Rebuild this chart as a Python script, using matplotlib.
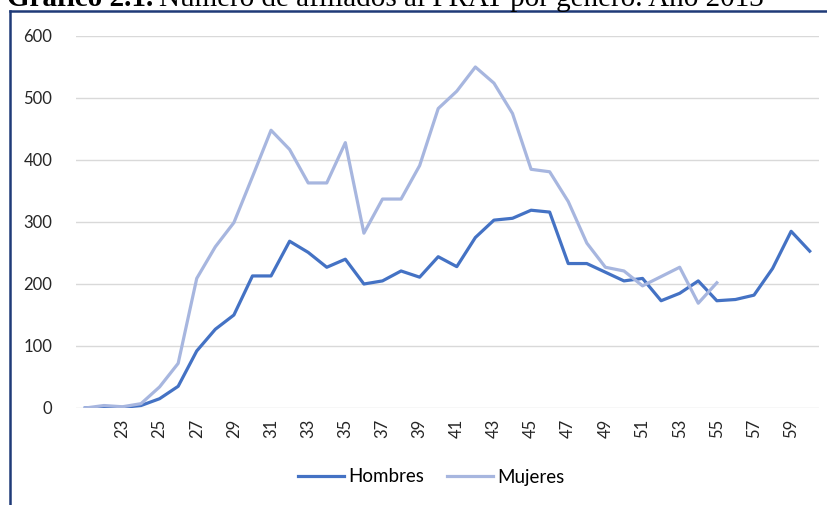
import matplotlib.pyplot as plt
from matplotlib.lines import Line2D

# Edades (categorias) y afiliados por genero
edades = list(range(21, 61))
hombres = [0, 1, 1, 4, 15, 35, 92, 127, 150, 213,
           213, 269, 251, 227, 240, 200, 205, 221, 211, 244,
           228, 275, 303, 306, 319, 316, 233, 233, 219, 205,
           209, 173, 185, 205, 173, 175, 182, 225, 285, 253]
mujeres = [0, 4, 2, 7, 34, 72, 209, 260, 299, 373,
           448, 417, 363, 363, 428, 282, 337, 337, 391, 483,
           511, 550, 524, 475, 385, 381, 333, 266, 227, 221,
           197, 212, 227, 169, 202]
etiquetas_x = list(range(23, 60, 2))
ticks_y = [0, 100, 200, 300, 400, 500, 600]

plt.rcParams["font.family"] = ["Lato", "DejaVu Sans"]

fig = plt.figure(figsize=(8.28, 5.05), dpi=100)
ax = fig.add_axes([76 / 828, 1 - 408 / 505, (819 - 76) / 828, (408 - 36) / 505])

ax.plot(edades, hombres, color="#4472C4", lw=2.3, label="Hombres", solid_joinstyle="round")
ax.plot(edades[:len(mujeres)], mujeres, color="#A7B6DF", lw=2.3, label="Mujeres",
        solid_joinstyle="round")

ax.set_xlim(20.5, 60.5)
ax.set_ylim(0, 600)
ax.set_xticks(etiquetas_x)
ax.set_xticklabels([str(e) for e in etiquetas_x], rotation=90, fontsize=12, color="#262626")
ax.set_yticks(ticks_y)
ax.set_yticklabels([str(t) for t in ticks_y], fontsize=12, color="#262626")
ax.tick_params(length=0)
ax.tick_params(axis="y", pad=17)
ax.tick_params(axis="x", pad=8)
ax.grid(axis="y", color="#D9D9D9", lw=1)
ax.set_axisbelow(True)
for s in ax.spines.values():
    s.set_visible(False)

fig.legend(loc="center", bbox_to_anchor=(431 / 828, 1 - 477 / 505), ncol=2,
           frameon=False, fontsize=13.5, handlelength=2.5, columnspacing=1.2,
           handletextpad=0.2)

# Marco del cuadro de texto y titulo (recortado arriba, como en el original)
fig.add_artist(Line2D([10 / 828, 1], [1 - 11 / 505, 1 - 11 / 505], color="#1F3A78", lw=1.8))
fig.add_artist(Line2D([10 / 828, 10 / 828], [0, 1 - 11 / 505], color="#1F3A78", lw=1.8))
t1 = fig.text(7 / 828, 1 - 6 / 505, "Gráfico 2.1.", family="Liberation Serif", fontsize=21,
              fontweight="bold", va="baseline", ha="left")
fig.canvas.draw()
x_fin = t1.get_window_extent().x1 / fig.bbox.width
fig.text(x_fin + 6 / 828, 1 - 6 / 505, "Número de afiliados al PRAT por género. Año 2013",
         family="Liberation Serif", fontsize=21, va="baseline", ha="left")

plt.savefig("out.png", dpi=100)
